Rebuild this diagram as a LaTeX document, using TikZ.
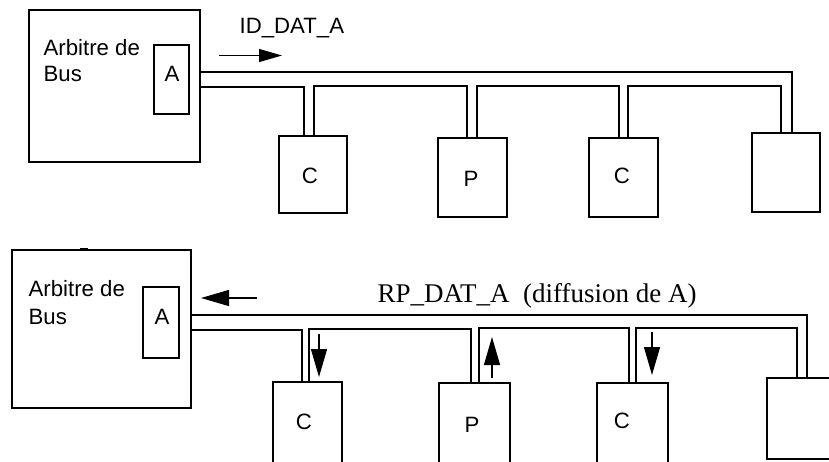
\documentclass[tikz,border=0pt]{standalone}
\usepackage{fontspec}
\setmainfont{Liberation Sans}
\newfontfamily\timesf{Liberation Serif}
\usetikzlibrary{arrows.meta,calc}
\begin{document}
\begin{tikzpicture}[x=1pt,y=-1pt,line width=1.3pt,
  box/.style={draw,rectangle,inner sep=0pt,outer sep=0pt,anchor=north west,font=\fontsize{22.2}{26}\selectfont},
  lbl/.style={inner sep=0pt,font=\fontsize{22.2}{26}\selectfont},
  bus/.style={line width=1.3pt},
  sarrow/.style={-{Triangle[length=23pt,width=13pt]},line width=1.3pt},
  barrow/.style={-{Triangle[length=28pt,width=16pt]},line width=1.3pt}]
\useasboundingbox (0,0) rectangle (829,461);
\clip (0,0) rectangle (829,461);
% ---------- top diagram ----------
\node[box,minimum width=171pt,minimum height=152pt] (arb1) at (29,10) {};
\node[lbl,anchor=base west] (t1a) at (43,55) {Arbitre de};
\node[lbl,anchor=base west] (t1b) at (43,81) {Bus};
\node[box,minimum width=35pt,minimum height=69pt] (a1) at (154,45) {};
\node[lbl,anchor=base] (a1t) at (172,81) {A};
\node[box,minimum width=68pt,minimum height=77pt] (c1) at (279,136) {};
\node[lbl,anchor=base] (c1t) at (310,183) {C};
\node[box,minimum width=69pt,minimum height=79pt] (p1) at (438,138) {};
\node[lbl,anchor=base] (p1t) at (471,186) {P};
\node[box,minimum width=69pt,minimum height=79pt] (c2) at (589,138) {};
\node[lbl,anchor=base] (c2t) at (622,183) {C};
\node[box,minimum width=68pt,minimum height=79pt] (x1) at (752,133) {};
\draw[bus] (arb1.east |- 0,72) -| ($(x1.north west)+(40,0)$);
\draw[bus] (arb1.east |- 0,87) -| ($(c1.north west)+(25,0)$);
\draw[bus] ($(c1.north west)+(35,0)$) -- ++(0,-50) -| ($(p1.north west)+(29,0)$);
\draw[bus] ($(p1.north west)+(39,0)$) -- ++(0,-52) -| ($(c2.north west)+(30,0)$);
\draw[bus] ($(c2.north west)+(39,0)$) -- ++(0,-52) -| ($(x1.north west)+(29,0)$);
\node[lbl,anchor=base west] (id) at (239,33) {ID\_DAT\_A};
\coordinate (ar1s) at (219,55.5);
\coordinate (ar1e) at (282,55.5);
\draw[sarrow] (ar1s) -- (ar1e);
% ---------- bottom diagram ----------
\node[box,minimum width=179pt,minimum height=158pt] (arb2) at (12,250) {};
\draw[line width=2.2pt] (80,249.5) -- (88,249.5);
\node[lbl,anchor=base west] (t2a) at (28,296) {Arbitre de};
\node[lbl,anchor=base west] (t2b) at (28,324) {Bus};
\node[box,minimum width=36pt,minimum height=71pt] (a2) at (143,287) {};
\node[lbl,anchor=base] (a2t) at (162,324) {A};
\node[box,minimum width=69pt,minimum height=110pt] (d1) at (273,382) {};
\node[lbl,anchor=base] (d1t) at (304,429) {C};
\node[box,minimum width=71pt,minimum height=110pt] (q1) at (439,383) {};
\node[lbl,anchor=base] (q1t) at (472,432) {P};
\node[box,minimum width=71pt,minimum height=110pt] (d2) at (597,383) {};
\node[lbl,anchor=base] (d2t) at (622,428) {C};
\node[box,minimum width=90pt,minimum height=81pt] (y1) at (767,378) {};
\draw[bus] (arb2.east |- 0,315) -| ($(y1.north west)+(40,0)$);
\draw[bus] (arb2.east |- 0,330) -| ($(d1.north west)+(29,0)$);
\draw[bus] ($(d1.north west)+(36,0)$) -- ++(0,-53) -| ($(q1.north west)+(32,0)$);
\draw[bus] ($(q1.north west)+(40,0)$) -- ++(0,-55) -| ($(d2.north west)+(32,0)$);
\draw[bus] ($(d2.north west)+(39,0)$) -- ++(0,-55) -| ($(y1.north west)+(30,0)$);
\node[inner sep=0pt,anchor=base west,font=\timesf\fontsize{27}{31}\selectfont] (rp) at (377,302) {RP\_DAT\_A\ \ (diffusion de A)};
\coordinate (ar2s) at (257,298);
\coordinate (ar2e) at (201,298);
\draw[barrow] (ar2s) -- (ar2e);
\draw[barrow] ($(d1.north west)+(46,-48)$) -- ($(d1.north west)+(46,-5)$);
\draw[barrow] ($(q1.north west)+(53,-5)$) -- ($(q1.north west)+(53,-46)$);
\draw[barrow] ($(d2.north west)+(55,-51)$) -- ($(d2.north west)+(55,-8)$);
\end{tikzpicture}
\end{document}
